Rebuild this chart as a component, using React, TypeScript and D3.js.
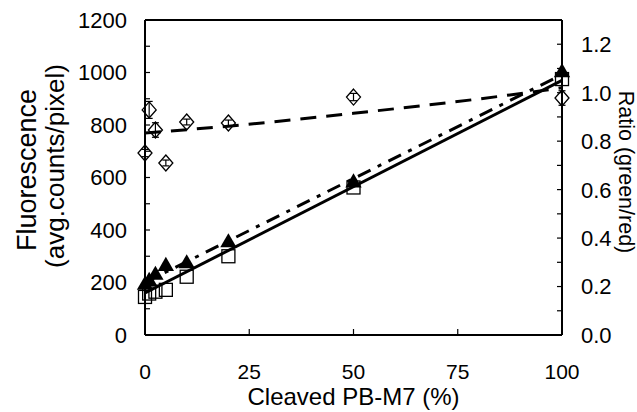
import React from "react";
import * as d3 from "d3";

// ---- data ----
const xVals = [0, 1, 2.5, 5, 10, 20, 50, 100];
const squareVals = [145, 158, 165, 172, 222, 300, 562, 975];
const triangleVals = [190, 205, 228, 262, 272, 352, 580, 1000];
const ratioVals = [0.751, 0.929, 0.846, 0.71, 0.879, 0.875, 0.982, 0.978];
const ratioErr = [0.015, 0.035, 0.03, 0.012, 0.012, 0.012, 0.015, 0.03];
const fitX = [0, 100];
const squareFit = [160, 970];
const triangleFit = [200, 992];
const ratioFitX = [0, 20, 50, 85, 100];
const ratioFit = [0.834, 0.862, 0.915, 0.985, 1.02];
const xTicks = [0, 25, 50, 75, 100];
const leftTicks = [0, 200, 400, 600, 800, 1000, 1200];
const rightTicks = [0, 0.2, 0.4, 0.6, 0.8, 1.0, 1.2];

const W = 637, H = 412;
const L = 145, R = 562, T = 20, B = 335;
const FONT = "'Liberation Sans', Arial, sans-serif";

export default function App() {
  const x = d3.scaleLinear().domain([0, 100]).range([L, R]);
  const yL = d3.scaleLinear().domain([0, 1200]).range([B, T]);
  const yR = d3.scaleLinear().domain([0, 1.3]).range([B, T]);

  const lineL = d3.line<[number, number]>().x(d => x(d[0])).y(d => yL(d[1]));
  const lineR = d3.line<[number, number]>().x(d => x(d[0])).y(d => yR(d[1])).curve(d3.curveMonotoneX);

  const sqFitPts = fitX.map((v, i) => [v, squareFit[i]] as [number, number]);
  const trFitPts = fitX.map((v, i) => [v, triangleFit[i]] as [number, number]);
  const raFitPts = ratioFitX.map((v, i) => [v, ratioFit[i]] as [number, number]);

  const leftMinor = d3.range(0, 1201, 100);
  const rightMinor = d3.range(0, 13).map(i => i / 10);

  const tri = d3.symbol().type(d3.symbolTriangle).size(115)();

  return (
    <svg width={W} height={H} style={{ position: "absolute", left: 0, top: 0, background: "#fff" }}
      fontFamily={FONT}>
      <rect x={0} y={0} width={W} height={H} fill="#fff" />
      {/* fit lines */}
      <path d={lineL(sqFitPts) || ""} fill="none" stroke="#000" strokeWidth={3} />
      <path d={lineL(trFitPts) || ""} fill="none" stroke="#000" strokeWidth={3}
        strokeDasharray="14 8 4 8" />
      <path d={lineR(raFitPts) || ""} fill="none" stroke="#000" strokeWidth={3}
        strokeDasharray="16 10" />

      {/* squares */}
      {xVals.map((v, i) => (
        <rect key={"s" + i} x={x(v) - 6.5} y={yL(squareVals[i]) - 6.5} width={13} height={13}
          fill="none" stroke="#000" strokeWidth={1.3} />
      ))}
      {/* triangles */}
      {xVals.map((v, i) => (
        <path key={"t" + i} d={tri || ""} transform={`translate(${x(v)},${yL(triangleVals[i])})`}
          fill="#000" />
      ))}
      {/* ratio diamonds with error bars */}
      {xVals.map((v, i) => {
        const cx = x(v), cy = yR(ratioVals[i]);
        const hi = yR(ratioVals[i] + ratioErr[i]), lo = yR(ratioVals[i] - ratioErr[i]);
        return (
          <g key={"d" + i}>
            <path d={`M${cx},${cy - 8}L${cx + 7},${cy}L${cx},${cy + 8}L${cx - 7},${cy}Z`}
              fill="none" stroke="#000" strokeWidth={1.3} />
            <line x1={cx} x2={cx} y1={hi} y2={lo} stroke="#000" strokeWidth={1.2} />
            <line x1={cx - 3.5} x2={cx + 3.5} y1={hi} y2={hi} stroke="#000" strokeWidth={1.2} />
            <line x1={cx - 3.5} x2={cx + 3.5} y1={lo} y2={lo} stroke="#000" strokeWidth={1.2} />
          </g>
        );
      })}

      {/* frame */}
      <line x1={L} x2={R} y1={T} y2={T} stroke="#000" strokeWidth={2} />
      <line x1={L} x2={R} y1={B} y2={B} stroke="#000" strokeWidth={2} />
      <line x1={L} x2={L} y1={T} y2={B} stroke="#000" strokeWidth={2} />
      <line x1={R} x2={R} y1={T} y2={B} stroke="#000" strokeWidth={2} />

      {/* ticks */}
      {leftMinor.map(t => (
        <line key={"lt" + t} x1={L} x2={L + 5} y1={yL(t)} y2={yL(t)} stroke="#000" strokeWidth={1.2} />
      ))}
      {rightMinor.map(t => (
        <line key={"rt" + t} x1={R - 5} x2={R} y1={yR(t)} y2={yR(t)} stroke="#000" strokeWidth={1.2} />
      ))}
      {xTicks.slice(1, -1).map(t => (
        <line key={"xt" + t} x1={x(t)} x2={x(t)} y1={B} y2={B - 6} stroke="#000" strokeWidth={1.2} />
      ))}

      {/* tick labels */}
      {leftTicks.map(t => (
        <text key={"ll" + t} x={127} y={yL(t)} dy="0.36em" textAnchor="end" fontSize={22}>{t}</text>
      ))}
      {rightTicks.map(t => (
        <text key={"rl" + t} x={581} y={yR(t)} dy="0.36em" textAnchor="start" fontSize={22}>{t.toFixed(1)}</text>
      ))}
      {xTicks.map(t => (
        <text key={"xl" + t} x={x(t)} y={379} textAnchor="middle" fontSize={21}>{t}</text>
      ))}

      {/* axis titles */}
      <text x={(L + R) / 2} y={405} textAnchor="middle" fontSize={24}>Cleaved PB-M7 (%)</text>
      <text transform="translate(36,170) rotate(-90)" textAnchor="middle" fontSize={27}>Fluorescence</text>
      <text transform="translate(64,166) rotate(-90)" textAnchor="middle" fontSize={26}>(avg.counts/pixel)</text>
      <text transform="translate(619,172) rotate(90)" textAnchor="middle" fontSize={21.5}>Ratio (green/red)</text>
    </svg>
  );
}
